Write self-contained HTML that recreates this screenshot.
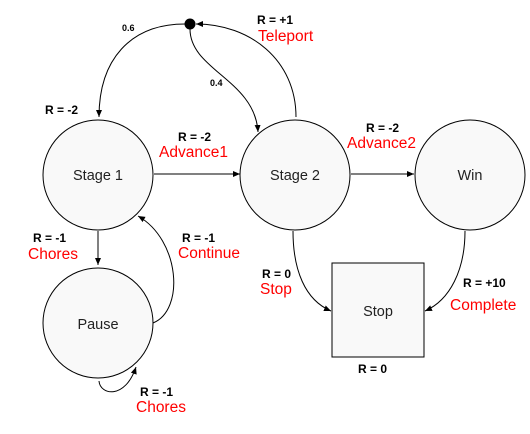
<!DOCTYPE html>
<html><head><style>body{margin:0;background:#fff}</style></head><body>
<svg width="530" height="429" xmlns="http://www.w3.org/2000/svg" font-family="Liberation Sans, sans-serif">
<defs><marker id="a" markerWidth="8" markerHeight="8" refX="7" refY="3" orient="auto" markerUnits="userSpaceOnUse"><path d="M0,0 L7,3 L0,6 z" fill="#000"/></marker></defs>
<g fill="#f9f9f9" stroke="#000" stroke-width="1">
<circle cx="98" cy="175" r="55"/>
<circle cx="295" cy="175" r="55"/>
<circle cx="470" cy="175" r="55"/>
<circle cx="98" cy="323" r="55"/>
<rect x="332" y="263" width="92" height="94"/>
</g>
<circle cx="190" cy="24" r="5.5" fill="#000"/>
<g fill="none" stroke="#000" stroke-width="1" marker-end="url(#a)">
<path d="M154,174 L240,174"/>
<path d="M351,174 L414,174"/>
<path d="M98,231 L98,265"/>
<path d="M153,323 C185,310 180,240 138,216"/>
<path d="M99,381 C100,395 125,400 136,367"/>
<path d="M293,231 C293,270 305,300 331,311"/>
<path d="M465,231 C465,270 450,300 425,311"/>
<path d="M185,24 C130,24 99,60 99,117"/>
<path d="M190,29 C190,70 255,80 258,132"/>
<path d="M296,117 C296,60 250,24 196,24"/>
</g>
<g font-size="14.5" fill="#222" text-anchor="middle">
<text x="98" y="180">Stage 1</text>
<text x="295" y="180">Stage 2</text>
<text x="470" y="180">Win</text>
<text x="98" y="329">Pause</text>
<text x="378" y="316">Stop</text>
</g>
<g font-size="12" font-weight="bold" fill="#000">
<text x="122" y="31" font-size="9">0.6</text>
<text x="210" y="86" font-size="9">0.4</text>
<text x="257" y="24">R = +1</text>
<text x="45" y="114">R = -2</text>
<text x="178" y="141">R = -2</text>
<text x="366" y="132">R = -2</text>
<text x="33" y="242">R = -1</text>
<text x="182" y="242">R = -1</text>
<text x="262" y="278">R = 0</text>
<text x="463" y="287">R = +10</text>
<text x="358" y="373">R = 0</text>
<text x="140" y="396">R = -1</text>
</g>
<g font-size="15.5" fill="#f00">
<text x="258" y="41">Teleport</text>
<text x="159" y="157">Advance1</text>
<text x="347" y="148">Advance2</text>
<text x="28" y="259">Chores</text>
<text x="178" y="258">Continue</text>
<text x="260" y="294">Stop</text>
<text x="450" y="310">Complete</text>
<text x="136" y="412">Chores</text>
</g>
</svg>
</body></html>
